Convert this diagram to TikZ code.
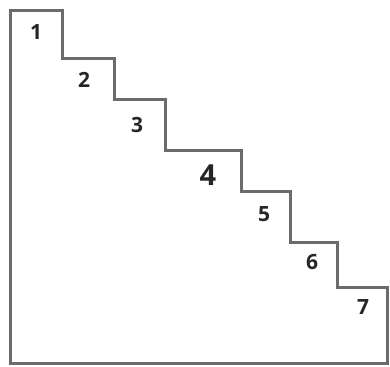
\documentclass[tikz,border=0pt]{standalone}
\usepackage{fontspec}
\setmainfont{Open Sans}
\begin{document}
\begin{tikzpicture}[x=1pt,y=-1pt,
  stair/.style={draw=black!58,line width=3pt,line join=miter},
  num/.style={font=\fontsize{21}{21}\selectfont\bfseries,text=black!85,inner sep=0pt},
  bignum/.style={font=\fontsize{29}{29}\selectfont\bfseries,text=black!85,inner sep=0pt}]
\useasboundingbox[fill=white] (0,0) rectangle (390,366);
\coordinate (p0) at (10,363);
\draw[stair] (p0) -- (10,11) -- (62,11) -- (62,59) -- (114,59) -- (114,100)
  -- (165,100) -- (165,150) -- (241,150) -- (241,191) -- (290,191) -- (290,242)
  -- (337,242) -- (337,287) -- (387,287) -- (387,363) -- cycle;
\node[num] (n1) at (36,32) {1};
\node[num] (n2) at (84,80) {2};
\node[num] (n3) at (137,125) {3};
\node[bignum] (n4) at (208,175) {4};
\node[num] (n5) at (264,214) {5};
\node[num] (n6) at (312,262) {6};
\node[num] (n7) at (363,307) {7};
\end{tikzpicture}
\end{document}
